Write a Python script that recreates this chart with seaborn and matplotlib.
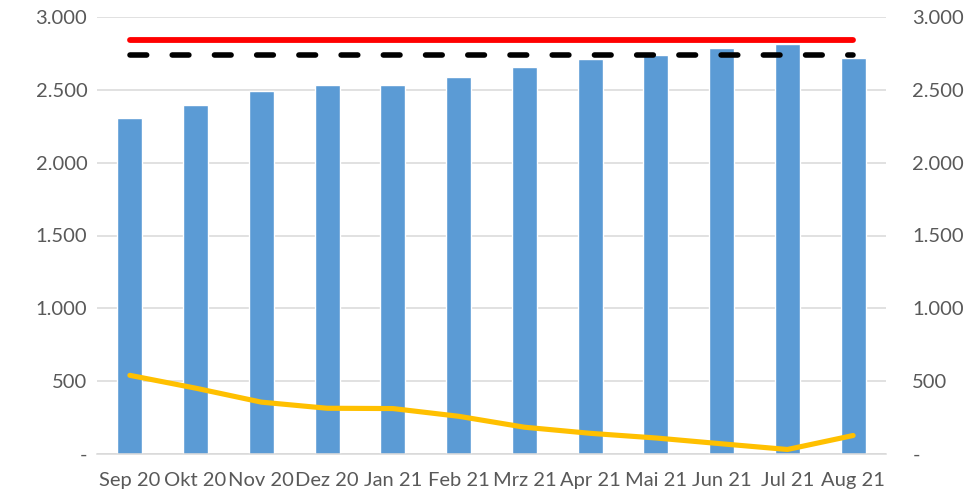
import matplotlib
matplotlib.use("Agg")
import matplotlib.pyplot as plt
import matplotlib.ticker as mticker
import numpy as np
import pandas as pd
import seaborn as sns

months = ["Sep 20", "Okt 20", "Nov 20", "Dez 20", "Jan 21", "Feb 21",
          "Mrz 21", "Apr 21", "Mai 21", "Jun 21", "Jul 21", "Aug 21"]
bar_values = [2308, 2394, 2491, 2536, 2533, 2587, 2660, 2709, 2741, 2784, 2817, 2717]
line_values = [540, 452, 356, 314, 312, 259, 184, 142, 110, 70, 31, 127]
red_values = [2842] * 12
black_values = [2736] * 12
y_ticks = [0, 500, 1000, 1500, 2000, 2500, 3000]

sns.set_theme(style="white")
plt.rcParams['font.family'] = ['Lato', 'DejaVu Sans']

df = pd.DataFrame({"month": months, "bars": bar_values, "line": line_values,
                   "red": red_values, "black": black_values})
df["pos"] = np.arange(len(months))

fig = plt.figure(figsize=(9.7, 4.97), dpi=100)
ax = fig.add_axes([97/970, 1-454/497, (886-97)/970, (454-17)/497])

sns.barplot(data=df, x="month", y="bars", color="#5B9BD5", width=0.38,
            saturation=1, ax=ax, zorder=2)
sns.lineplot(data=df, x="pos", y="line", color="#FFC000", linewidth=3.7, ax=ax,
             zorder=3, solid_capstyle="round")
sns.lineplot(data=df, x="pos", y="red", color="#FF0000", linewidth=4.2, ax=ax,
             zorder=4, solid_capstyle="round")
sns.lineplot(data=df, x="pos", y="black", color="black", linewidth=4.0, ax=ax,
             zorder=4, linestyle=(0, (3.0, 4.6)), dash_capstyle="round")

ax.set_xlim(-0.5, len(months) - 0.5)
ax.set_ylim(0, 3000)
ax.set_xlabel("")
ax.set_ylabel("")

def fmt(v, pos):
    if abs(v) < 1e-9:
        return "-"
    return f"{int(round(v)):,}".replace(",", ".")

ax.set_yticks(y_ticks)
ax.yaxis.set_major_formatter(mticker.FuncFormatter(fmt))
ax.grid(axis="y", color="#D9D9D9", linewidth=1.1, zorder=0)
ax.set_axisbelow(True)
for s in ["top", "left", "right"]:
    ax.spines[s].set_visible(False)
ax.spines["bottom"].set_color("#D9D9D9")
ax.spines["bottom"].set_linewidth(1.1)

ax.set_xticks(np.arange(len(months)))
ax.set_xticklabels(months)
ax.set_xticks(np.arange(-0.5, len(months)), minor=True)
ax.tick_params(axis="x", which="major", length=0, pad=13, labelsize=14.5, labelcolor="#595959")
ax.tick_params(axis="x", which="minor", length=6, width=1.1, color="#D9D9D9", direction="out")
ax.tick_params(axis="y", length=0, pad=7, labelsize=14.5, labelcolor="#595959")

ax2 = ax.twinx()
ax2.set_ylim(0, 3000)
ax2.set_yticks(y_ticks)
ax2.yaxis.set_major_formatter(mticker.FuncFormatter(fmt))
for s in ["top", "left", "right", "bottom"]:
    ax2.spines[s].set_visible(False)
ax2.tick_params(axis="y", length=0, pad=19, labelsize=14.5, labelcolor="#595959")
for lab in ax2.get_yticklabels():
    lab.set_horizontalalignment("left")
ax2.grid(False)

fig.savefig("out.png", dpi=100)
